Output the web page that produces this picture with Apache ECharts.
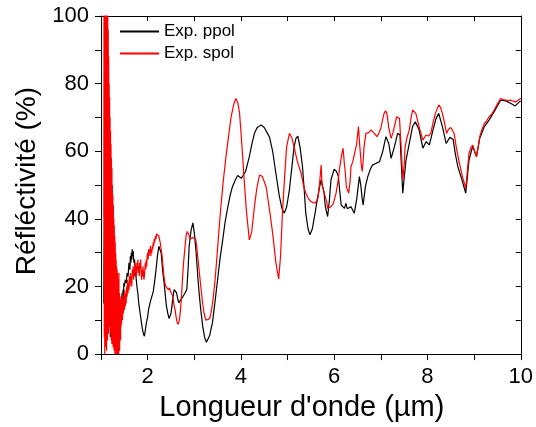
<!DOCTYPE html>
<html>
<head>
<meta charset="utf-8">
<script src="https://cdn.jsdelivr.net/npm/echarts@6/dist/echarts.min.js"></script>
<style>
html,body{margin:0;padding:0;background:#fff;}
#chart{width:536px;height:427px;}
</style>
</head>
<body>
<div id="chart"></div>
<script>
// ---- data ----
var seriesNames = ['Exp. ppol', 'Exp. spol'];
var xTickLabels = [2, 4, 6, 8, 10];
var yTickLabels = [0, 20, 40, 60, 80, 100];

var ppolX = [1.06,1.07,1.08,1.09,1.10,1.11,1.12,1.13,1.14,1.15,1.16,1.17,1.18,1.19,1.20,1.21,1.22,1.23,1.24,1.25,1.26,1.27,1.28,1.29,1.30,1.31,1.32,1.33,1.34,1.35,1.36,1.37,1.38,1.39,1.40,1.41,1.42,1.43,1.44,1.45,1.46,1.47,1.48,1.49,1.50,1.52,1.54,1.56,1.58,1.60,1.62,1.63,1.64,1.65,1.66,1.67,1.68,1.69,1.70,1.71,1.72,1.73,1.75,1.77,1.79,1.81,1.84,1.87,1.89,1.91,1.93,1.95,1.97,2.00,2.02,2.05,2.07,2.10,2.12,2.15,2.18,2.21,2.24,2.26,2.29,2.32,2.36,2.40,2.43,2.46,2.48,2.50,2.52,2.55,2.57,2.60,2.62,2.65,2.67,2.69,2.71,2.74,2.76,2.80,2.84,2.87,2.89,2.93,2.97,3.00,3.04,3.08,3.11,3.14,3.18,3.22,3.26,3.29,3.33,3.36,3.39,3.44,3.50,3.55,3.61,3.66,3.72,3.77,3.82,3.88,3.93,3.97,4.01,4.05,4.10,4.18,4.24,4.29,4.35,4.43,4.50,4.56,4.61,4.68,4.75,4.82,4.88,4.93,4.98,5.04,5.09,5.14,5.18,5.22,5.27,5.32,5.36,5.39,5.44,5.48,5.53,5.59,5.64,5.69,5.72,5.75,5.78,5.81,5.86,5.90,5.93,6.00,6.05,6.09,6.12,6.15,6.22,6.25,6.28,6.31,6.36,6.40,6.43,6.48,6.54,6.57,6.60,6.62,6.67,6.72,6.77,6.82,6.89,6.97,7.04,7.08,7.11,7.17,7.22,7.29,7.36,7.41,7.44,7.47,7.50,7.54,7.61,7.68,7.74,7.82,7.90,7.97,8.04,8.11,8.18,8.24,8.32,8.40,8.48,8.55,8.60,8.65,8.74,8.82,8.86,8.89,8.97,9.05,9.12,9.22,9.32,9.43,9.50,9.57,9.68,9.79,9.88,9.97,10.0];
var ppolY = [15,40,22,50,30,55,25,58,35,60,28,52,10,45,5,38,12,30,3,20,8,18,4,16,6,15,3,12,5,14,6,11,4,13,8,16,10,16,12,18,14,19,16,21,20,22,21,24,23,27,25,29,27,30,28,31,29,30.5,28,27,28,25,23,20,18,15,12,9,7.3,6,5.3,7,9,11,13.2,15,16.1,17.5,18.5,21.5,25,29,31.9,31.5,29.9,25,20.1,14.5,12.2,10.5,10.2,12,14.2,17.5,19.1,18.6,18.1,16,15.2,15.5,16.1,16.5,17.1,18,19.1,26,31.9,36.5,38.8,36,30,22,17.1,13,8.3,5,3.5,3.3,5.5,7.5,9.3,15,22,28,33.8,39,43.6,47,49.6,51.5,52.8,53,52,51.5,54,58.4,62.5,65.3,67,67.8,67,65.5,64.3,60,53.5,47,43,41.7,43.5,48.6,55,61.3,63.8,64.5,61,55.4,48,41.7,37,35.3,37,41.7,46,49.6,51.5,52,48,43.6,40.7,46,51.5,54.7,54,52.5,48,44.1,43.1,44.6,43,43.1,43.6,42.5,41.7,45.6,52.5,50,46,44.1,49.6,52.5,54.5,55.9,56.4,56.9,59.9,62.5,64.3,62.3,57.9,61.3,65.3,64.8,56,47.6,52,57.4,62.3,67.3,68.7,66.3,60.9,62.8,61.9,65.8,69.5,71.2,67.3,62.3,64.1,63.5,59,55.5,51.5,47.6,53,57.4,61.5,58.4,63.8,67.3,69.2,71.7,73.5,75.1,74.9,74.1,73.4,74.6,74.8];

var spolX = [1.060,1.065,1.070,1.075,1.080,1.085,1.090,1.095,1.100,1.105,1.110,1.115,1.120,1.125,1.130,1.135,1.140,1.145,1.150,1.155,1.160,1.165,1.170,1.175,1.180,1.185,1.190,1.195,1.200,1.205,1.210,1.215,1.220,1.225,1.230,1.235,1.240,1.245,1.250,1.255,1.260,1.265,1.270,1.275,1.280,1.285,1.290,1.295,1.300,1.305,1.310,1.315,1.320,1.325,1.330,1.335,1.340,1.345,1.350,1.355,1.360,1.365,1.370,1.375,1.380,1.385,1.390,1.395,1.400,1.405,1.410,1.415,1.420,1.425,1.430,1.435,1.440,1.445,1.450,1.455,1.460,1.470,1.480,1.490,1.500,1.51,1.52,1.53,1.54,1.55,1.56,1.57,1.58,1.59,1.60,1.61,1.62,1.63,1.64,1.65,1.66,1.67,1.68,1.69,1.70,1.71,1.72,1.73,1.74,1.75,1.76,1.77,1.78,1.79,1.80,1.81,1.82,1.83,1.84,1.85,1.86,1.87,1.88,1.89,1.90,1.91,1.92,1.93,1.94,1.95,1.96,1.97,1.98,1.99,2.00,2.01,2.02,2.03,2.04,2.05,2.06,2.07,2.08,2.09,2.10,2.11,2.12,2.13,2.14,2.15,2.16,2.17,2.18,2.19,2.20,2.21,2.22,2.23,2.24,2.25,2.27,2.29,2.31,2.33,2.35,2.37,2.39,2.41,2.43,2.45,2.47,2.49,2.51,2.53,2.55,2.57,2.59,2.61,2.63,2.65,2.67,2.69,2.71,2.73,2.75,2.77,2.79,2.81,2.83,2.85,2.87,2.89,2.91,2.93,2.95,2.97,2.99,3.01,3.03,3.05,3.08,3.11,3.14,3.17,3.21,3.25,3.29,3.33,3.36,3.40,3.44,3.47,3.52,3.57,3.62,3.68,3.74,3.79,3.84,3.89,3.93,3.97,4.02,4.07,4.12,4.18,4.23,4.29,4.34,4.40,4.46,4.54,4.61,4.68,4.75,4.81,4.85,4.89,4.94,4.98,5.04,5.09,5.14,5.21,5.29,5.34,5.39,5.45,5.50,5.59,5.65,5.69,5.72,5.74,5.77,5.81,5.84,5.86,5.93,5.98,6.04,6.08,6.12,6.16,6.19,6.22,6.24,6.26,6.31,6.34,6.36,6.40,6.43,6.48,6.52,6.55,6.58,6.60,6.62,6.64,6.68,6.74,6.79,6.86,6.92,6.96,7.00,7.04,7.07,7.10,7.13,7.17,7.22,7.26,7.29,7.34,7.40,7.44,7.47,7.50,7.52,7.56,7.61,7.65,7.68,7.72,7.75,7.82,7.90,7.97,8.02,8.07,8.12,8.17,8.24,8.28,8.32,8.37,8.41,8.45,8.50,8.57,8.62,8.67,8.75,8.82,8.86,8.89,8.93,8.97,9.01,9.05,9.09,9.12,9.17,9.22,9.27,9.32,9.38,9.43,9.50,9.57,9.62,9.68,9.74,9.79,9.88,9.94,10.0];
var spolY = [40,110,5,115,0,112,3,118,2,110,6,108,1,104,8,102,4,100,10,96,6,88,12,80,8,76,14,70,6,66,10,62,4,58,12,55,3,50,8,47,2,44,9,40,1,38,6,35,0,33,5,30,0,28,4,26,0,25,2,24,0,22,1,20,0,24,3,18,1,17,5,16,4,15,8,17,9,14,12,18,10,15,12,17,13,19,14,18,15,20,17,22,18,21,19,23,20,24,21,23,20,25,23,26,22,25,23,27,24,26,23,27,25,28,24,26,23,27,25,28,24,22,25,23,26,24,22,23,25,27,25,28,26,29,30,28,31,29,31,30,32,29,31,30,32,31,33,32,34,33,34,35,34,35.5,35,36,35.5,36,35,34.8,33,31,29,26,23,21,20,19.5,20,19,19.6,18.5,18,17.5,16,14,13,11,9.5,8.8,9.5,11,14,18,23,27,30,33,35.5,36.3,36,35,34,33.5,33.5,34.5,35,34.8,34,32,28,24,20,16,12,10,9.7,10.5,12.2,16,21,26,35,43.6,51,58.4,65,70.2,73.5,75.6,74.5,71.5,62,51.5,42,33.8,36,43.6,49,53,52.5,49.5,43,35.8,27,22.2,29,41.7,53,61.3,65.3,64,61.3,57,53.5,50,47.6,46,45.1,44.6,46,51,55.9,50,48.4,48.1,45,43.1,43.6,44.5,47.6,51,55.4,59,60.9,56,53.5,49.5,47.6,51,55.4,57,58.9,62,67.3,61.3,56,54,57,61.3,65.3,65.5,66.3,65.3,64.3,65.5,66.8,69.5,71.2,72,71.2,67,63.8,65.5,67.3,70.2,69.7,60,51.5,56,61.3,64,66.3,70,72.2,72,71.2,67.3,63.3,64.8,64.5,65.3,68.5,71.2,73.7,73,71.2,68,65.3,66.5,67,65.3,61,57.4,52.5,49,55,59.4,61,61.8,60,58.4,61.5,64.3,66.5,68.2,69,70.2,71,72.2,74,75.6,75.3,75.1,75,75.1,74.6,75,75.6];

function pairs(xs, ys) {
  var out = [];
  for (var i = 0; i < xs.length && i < ys.length; i++) out.push([xs[i], ys[i]]);
  return out;
}

var FONT = "'Liberation Sans', Arial, sans-serif";
var chart = echarts.init(document.getElementById('chart'), null, {renderer: 'canvas'});

var axisLineStyle = {color: '#000', width: 1};

var option = {
  animation: false,
  backgroundColor: '#fff',
  grid: {left: 101, right: 14, top: 16, bottom: 72, containLabel: false},
  legend: {
    orient: 'vertical',
    left: 114,
    top: 18,
    itemWidth: 39,
    itemHeight: 12,
    itemGap: 5,
    data: seriesNames,
    itemStyle: {opacity: 0},
    textStyle: {fontFamily: FONT, fontSize: 17, color: '#000'}
  },
  xAxis: [{
    type: 'value',
    min: 1,
    max: 10,
    interval: 1,
    name: 'Longueur d\'onde (µm)',
    nameLocation: 'middle',
    nameGap: 36,
    nameTextStyle: {fontFamily: FONT, fontSize: 29, color: '#000', padding: [0, 18, 0, 0]},
    axisLine: {show: true, onZero: false, lineStyle: axisLineStyle},
    axisTick: {show: true, inside: false, length: 6, lineStyle: axisLineStyle},
    axisLabel: {
      fontFamily: FONT, fontSize: 22, color: '#000', margin: 12,
      formatter: function (v) { return xTickLabels.indexOf(v) >= 0 ? String(v) : ''; }
    },
    splitLine: {show: false}
  }, {
    type: 'value',
    position: 'top',
    min: 1,
    max: 10,
    interval: 1,
    axisLine: {show: true, onZero: false, lineStyle: axisLineStyle},
    axisTick: {show: true, inside: true, length: 5, lineStyle: axisLineStyle},
    axisLabel: {show: false},
    splitLine: {show: false}
  }],
  yAxis: [{
    type: 'value',
    min: 0,
    max: 100,
    interval: 10,
    name: 'Réfléctivité (%)',
    nameLocation: 'middle',
    nameGap: 58,
    nameRotate: 90,
    nameTextStyle: {fontFamily: FONT, fontSize: 28, color: '#000', padding: [0, 0, 0, 8]},
    axisLine: {show: true, onZero: false, lineStyle: axisLineStyle},
    axisTick: {show: true, inside: false, length: 6, lineStyle: axisLineStyle},
    axisLabel: {
      fontFamily: FONT, fontSize: 22, color: '#000', margin: 12,
      formatter: function (v) { return yTickLabels.indexOf(v) >= 0 ? String(v) : ''; }
    },
    splitLine: {show: false}
  }, {
    type: 'value',
    position: 'right',
    min: 0,
    max: 100,
    interval: 10,
    axisLine: {show: true, onZero: false, lineStyle: axisLineStyle},
    axisTick: {show: true, inside: true, length: 5, lineStyle: axisLineStyle},
    axisLabel: {show: false},
    splitLine: {show: false}
  }],
  series: [{
    name: seriesNames[0],
    type: 'line',
    xAxisIndex: 0,
    yAxisIndex: 0,
    symbol: 'none',
    clip: true,
    lineStyle: {color: '#000000', width: 1.2},
    itemStyle: {color: '#000000'},
    data: pairs(ppolX, ppolY)
  }, {
    name: seriesNames[1],
    type: 'line',
    xAxisIndex: 0,
    yAxisIndex: 0,
    symbol: 'none',
    clip: true,
    lineStyle: {color: '#ff0000', width: 1.2},
    itemStyle: {color: '#ff0000'},
    data: pairs(spolX, spolY)
  }]
};
chart.setOption(option);
</script>
</body>
</html>
